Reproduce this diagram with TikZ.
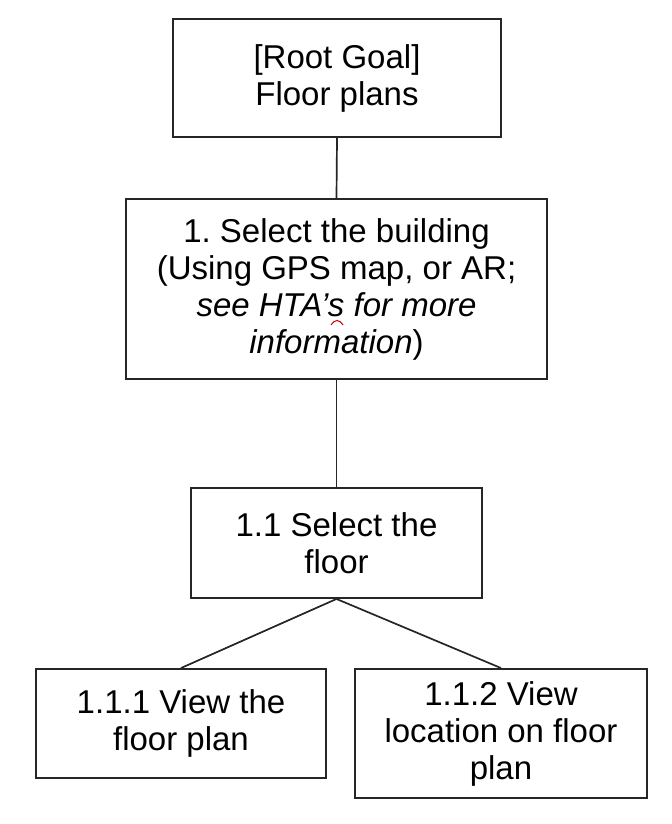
\documentclass[tikz,border=0pt]{standalone}
\usepackage{fontspec}
\setmainfont{Liberation Sans}
\frenchspacing
\begin{document}
\begin{tikzpicture}[x=0.5pt,y=-0.5pt,
  box/.style={draw=black!85, line width=0.95pt, fill=white, inner sep=0pt, align=center,
    font=\fontsize{16.5}{18.5}\selectfont},
  link/.style={draw=black!85, line width=0.85pt}]
\useasboundingbox[fill=white] (0,0) rectangle (672,824);
\node[box, minimum width=164pt, minimum height=59pt] (root) at (337,78) {[Root Goal]\\Floor plans};
\node[box, minimum width=210.5pt, minimum height=90pt] (b1) at (336.5,289)
  {1. Select the building\\(Using GPS map, or AR;\\\textit{see HTA's for more}\\\textit{information})};
\node[box, minimum width=145.5pt, minimum height=55pt] (b11) at (336.5,543) {1.1 Select the\\floor};
\node[box, minimum width=145pt, minimum height=54.5pt] (b111) at (181,723.5) {1.1.1 View the\\floor plan};
\node[box, minimum width=146pt, minimum height=64.5pt] (b112) at (501,733.5) {1.1.2 View\\location on floor\\plan};
\draw[link] (root.south) -- (b1.north);
\draw[link] (b1.south) -- (b11.north);
\draw[link] (b11.south) -- (b111.north);
\draw[link] (b11.south) -- (b112.north);
\draw[red!80!black, line width=0.5pt] (331,325) .. controls (335,319) and (339,319) .. (343,325);
\end{tikzpicture}
\end{document}
